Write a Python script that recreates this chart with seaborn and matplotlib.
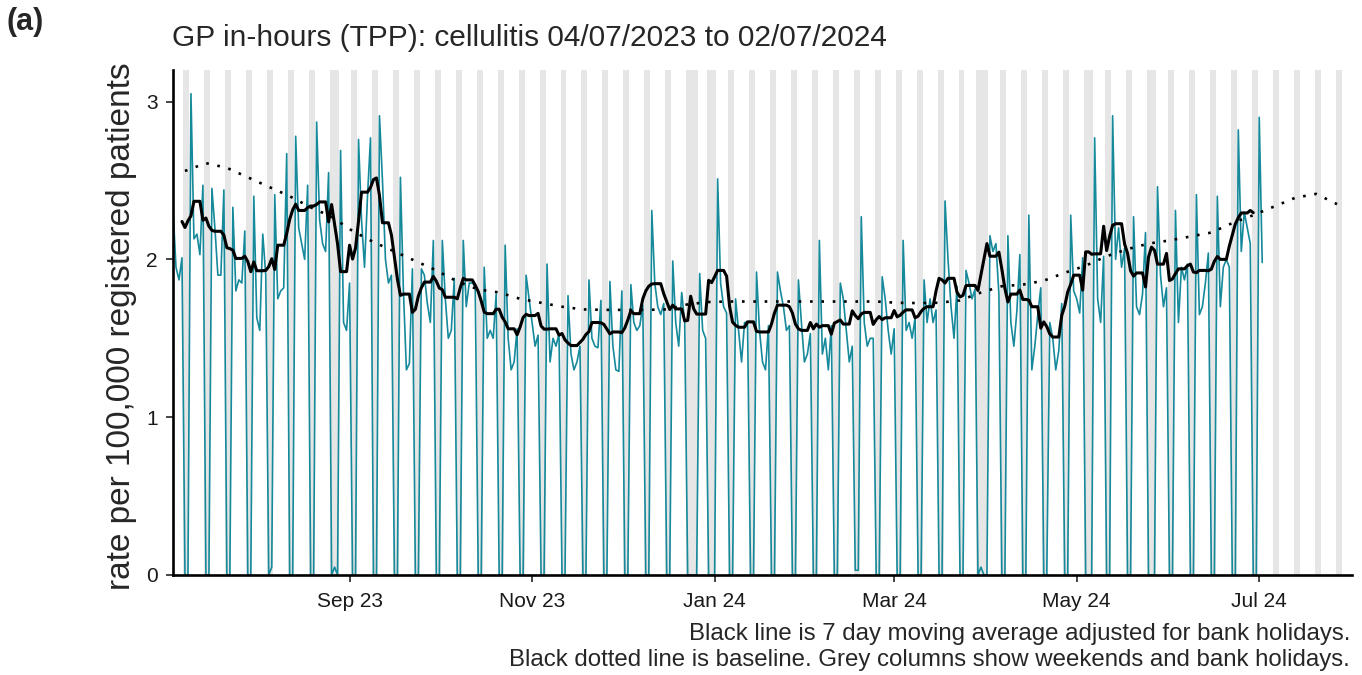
import numpy as np
import pandas as pd
import seaborn as sns
import matplotlib.pyplot as plt
import matplotlib.dates as mdates

nan = np.nan

# daily rate per 100,000, one row per week (Mon..Sun), starting Mon 03/07/2023
week_rates = [
    [nan, 2.32, 1.95, 1.87, 2.01, 0, 0],
    [3.05, 2.13, 2.16, 2.03, 2.47, 0, 0],
    [2.45, 2.20, 1.90, 1.90, 2.44, 0, 0],
    [2.33, 1.80, 1.87, 1.85, 2.18, 0, 0],
    [2.40, 1.63, 1.55, 2.16, 1.90, 0, 0.05],
    [2.41, 1.75, 1.80, 1.82, 2.67, 0, 0],
    [2.78, 2.20, 2.10, 2.00, 2.47, 0, 0],
    [2.87, 2.25, 2.10, 2.05, 2.55, 0, 0.05],
    [0, 2.69, 1.60, 1.55, 1.85, 0, 0],
    [2.76, 2.25, 1.95, 2.40, 2.77, 0, 0],
    [2.91, 2.50, 2.00, 1.85, 1.90, 0, 0],
    [2.52, 1.80, 1.30, 1.34, 1.94, 0, 0],
    [1.94, 1.90, 1.72, 1.60, 2.12, 0, 0],
    [2.12, 1.75, 1.50, 1.55, 1.88, 0, 0],
    [2.12, 1.70, 1.85, 1.85, 1.83, 0, 0],
    [1.95, 1.50, 1.55, 1.50, 1.78, 0, 0],
    [2.09, 1.50, 1.30, 1.35, 1.56, 0, 0],
    [1.90, 1.75, 1.60, 1.45, 1.52, 0, 0],
    [1.97, 1.35, 1.50, 1.45, 1.53, 0, 0],
    [1.77, 1.40, 1.30, 1.35, 1.45, 0, 0],
    [1.87, 1.50, 1.45, 1.44, 1.74, 0, 0],
    [1.86, 1.45, 1.30, 1.29, 1.80, 0, 0],
    [1.84, 1.60, 1.55, 1.58, 1.71, 0, 0],
    [2.31, 1.85, 1.70, 1.65, 1.72, 0, 0],
    [1.99, 1.60, 1.45, 1.79, 1.60, 0, 0],
    [0, 0, 1.91, 1.55, 1.50, 0, 0],
    [0, 2.51, 1.85, 1.70, 1.66, 0, 0],
    [1.75, 1.55, 1.35, 1.60, 1.60, 0, 0],
    [1.92, 1.55, 1.35, 1.30, 1.58, 0, 0],
    [1.92, 1.80, 1.70, 1.55, 1.58, 0, 0],
    [1.87, 1.60, 1.35, 1.40, 1.53, 0, 0],
    [2.12, 1.40, 1.50, 1.30, 1.58, 0, 0],
    [1.85, 1.75, 1.55, 1.35, 1.45, 0.03, 0.03],
    [2.27, 1.60, 1.45, 1.50, 1.50, 0, 0],
    [1.89, 1.75, 1.55, 1.40, 1.56, 0, 0],
    [2.12, 1.55, 1.60, 1.50, 1.63, 0, 0],
    [1.87, 1.60, 1.75, 1.60, 1.68, 0, 0],
    [2.37, 2.00, 1.70, 1.50, 1.83, 0, 0],
    [1.93, 1.85, 1.75, 1.81, 0, 0.05, 0],
    [0, 2.15, 2.05, 2.10, 1.78, 0, 0],
    [2.15, 1.60, 1.45, 1.67, 2.03, 0, 0],
    [2.28, 1.30, 1.45, 1.65, 1.82, 0, 0],
    [1.60, 1.50, 1.30, 1.42, 1.72, 0, 0],
    [2.28, 1.80, 1.75, 1.66, 2.01, 0, 0],
    [0, 2.77, 1.75, 1.60, 2.02, 0, 0],
    [2.91, 2.00, 2.20, 1.95, 2.07, 0, 0],
    [2.27, 1.70, 1.65, 1.78, 2.17, 0, 0],
    [0, 2.46, 1.90, 1.70, 1.82, 0, 0],
    [2.31, 1.60, 1.95, 1.87, 1.97, 0, 0],
    [2.41, 1.65, 1.70, 1.85, 2.04, 0, 0],
    [2.40, 1.70, 1.95, 2.00, 1.95, 0, 0],
    [2.82, 2.05, 2.30, 2.20, 2.10, 0, 0],
    [2.90, 1.98],
]

bank_holidays = ["2023-08-28", "2023-12-25", "2023-12-26", "2024-01-01",
                 "2024-03-29", "2024-04-01", "2024-05-06", "2024-05-27"]

# baseline, one value per week starting Sat 08/07/2023
baseline_vals = [2.56, 2.61, 2.58, 2.52, 2.46, 2.40, 2.33, 2.27, 2.18, 2.11,
                 2.05, 1.99, 1.93, 1.86, 1.81, 1.79, 1.75, 1.725, 1.70, 1.683,
                 1.68, 1.68, 1.68, 1.683, 1.715, 1.73, 1.733, 1.733, 1.733, 1.733,
                 1.733, 1.733, 1.733, 1.733, 1.725, 1.723, 1.725, 1.74, 1.79, 1.83,
                 1.84, 1.865, 1.915, 1.96, 2.02, 2.065, 2.10, 2.12, 2.145, 2.17,
                 2.23, 2.28, 2.335, 2.39, 2.415, 2.35]

tick_labels = ["Sep 23", "Nov 23", "Jan 24", "Mar 24", "May 24", "Jul 24"]

# build daily frame
flat = [v for wk in week_rates for v in wk]
df = pd.DataFrame({"date": pd.date_range("2023-07-03", periods=len(flat), freq="D"),
                   "rate": flat})
df = df[df["date"] >= "2023-07-04"].reset_index(drop=True)
hol = pd.to_datetime(bank_holidays)
df["working"] = (df["date"].dt.weekday < 5) & (~df["date"].isin(hol))

# centred 7 day moving average over working days only
df["ma"] = df["rate"].where(df["working"]).rolling(7, center=True, min_periods=1).mean()
df.loc[df.index < 3, "ma"] = nan
df.loc[df.index > len(df) - 4, "ma"] = nan

base = pd.DataFrame({"date": pd.date_range("2023-07-08", periods=len(baseline_vals), freq="7D"),
                     "baseline": baseline_vals})

sns.set_style("ticks")
plt.rcParams["font.family"] = ["Liberation Sans", "DejaVu Sans"]

fig = plt.figure(figsize=(13.62, 6.75), dpi=100)
ax = fig.add_axes([173 / 1362, 100 / 675, (1352 - 173) / 1362, 505 / 675])

x_start = pd.Timestamp("2023-07-04")
x_end = pd.Timestamp("2024-08-01")

# grey columns for weekends and bank holidays
for d in pd.date_range(x_start, x_end, freq="D"):
    if d.weekday() >= 5 or d in hol:
        ax.axvspan(d - pd.Timedelta(hours=12), d + pd.Timedelta(hours=12),
                   color="#e6e6e6", lw=0, zorder=0)

sns.lineplot(data=df, x="date", y="rate", color="#16899b", lw=1.2,
             estimator=None, ax=ax, zorder=2)
sns.lineplot(data=base, x="date", y="baseline", color="black", lw=1.9,
             estimator=None, ax=ax, zorder=3)
ax.lines[-1].set_dashes([1, 3.3])
sns.lineplot(data=df, x="date", y="ma", color="black", lw=2.2,
             estimator=None, ax=ax, zorder=4)

ax.set_xlim(x_start, x_end)
ax.set_ylim(0, 3.2)
ax.set_yticks([0, 1, 2, 3])
ax.xaxis.set_major_locator(mdates.MonthLocator(bymonth=[9, 11, 1, 3, 5, 7]))
ticks = list(ax.get_xticks())
ax.set_xticks(ticks)
ax.set_xticklabels(tick_labels[:len(ticks)])
ax.set_xlabel("")
ax.set_ylabel("")
ax.tick_params(axis="both", direction="out", length=5, width=1.4, colors="#444444",
               labelsize=15, labelcolor="#1a1a1a")
ax.tick_params(axis="x", pad=7)
ax.tick_params(axis="y", pad=6)
sns.despine(ax=ax)
for s in ["left", "bottom"]:
    ax.spines[s].set_linewidth(1.9)
    ax.spines[s].set_color("black")

fig.text(7 / 1362, 1 - 22 / 675, "(a)", fontsize=22, fontweight="bold", va="center")
fig.text(172 / 1362, 1 - 38 / 675, "GP in-hours (TPP): cellulitis 04/07/2023 to 02/07/2024",
         fontsize=21.5, va="center")
fig.text(122 / 1362, 1 - 326 / 675, "rate per 100,000 registered patients",
         fontsize=24, rotation=90, va="center", ha="center")
fig.text(1350 / 1362, 1 - 634 / 675,
         "Black line is 7 day moving average adjusted for bank holidays.",
         fontsize=17.3, ha="right", va="center")
fig.text(1350 / 1362, 1 - 660 / 675,
         "Black dotted line is baseline. Grey columns show weekends and bank holidays.",
         fontsize=17.3, ha="right", va="center")

fig.savefig("out.png", dpi=100)
